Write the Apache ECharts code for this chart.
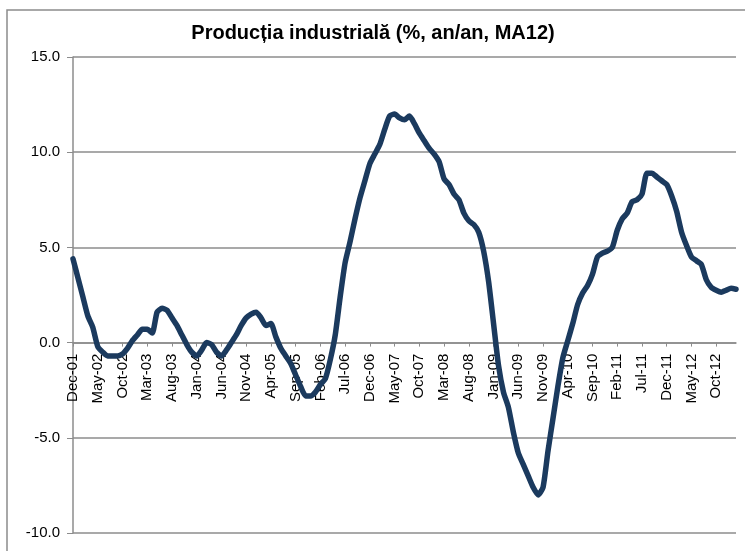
<!DOCTYPE html>
<html>
<head>
<meta charset="utf-8">
<script src="https://cdn.jsdelivr.net/npm/echarts@6/dist/echarts.min.js"></script>
<style>
html,body{margin:0;padding:0;background:#fff;}
#c{width:745px;height:551px;}
</style>
</head>
<body>
<div id="c"></div>
<script>
const titleText = 'Producția industrială (%, an/an, MA12)';
const categories = [
'Dec-01','Jan-02','Feb-02','Mar-02','Apr-02','May-02','Jun-02','Jul-02','Aug-02','Sep-02','Oct-02','Nov-02',
'Dec-02','Jan-03','Feb-03','Mar-03','Apr-03','May-03','Jun-03','Jul-03','Aug-03','Sep-03','Oct-03','Nov-03',
'Dec-03','Jan-04','Feb-04','Mar-04','Apr-04','May-04','Jun-04','Jul-04','Aug-04','Sep-04','Oct-04','Nov-04',
'Dec-04','Jan-05','Feb-05','Mar-05','Apr-05','May-05','Jun-05','Jul-05','Aug-05','Sep-05','Oct-05','Nov-05',
'Dec-05','Jan-06','Feb-06','Mar-06','Apr-06','May-06','Jun-06','Jul-06','Aug-06','Sep-06','Oct-06','Nov-06',
'Dec-06','Jan-07','Feb-07','Mar-07','Apr-07','May-07','Jun-07','Jul-07','Aug-07','Sep-07','Oct-07','Nov-07',
'Dec-07','Jan-08','Feb-08','Mar-08','Apr-08','May-08','Jun-08','Jul-08','Aug-08','Sep-08','Oct-08','Nov-08',
'Dec-08','Jan-09','Feb-09','Mar-09','Apr-09','May-09','Jun-09','Jul-09','Aug-09','Sep-09','Oct-09','Nov-09',
'Dec-09','Jan-10','Feb-10','Mar-10','Apr-10','May-10','Jun-10','Jul-10','Aug-10','Sep-10','Oct-10','Nov-10',
'Dec-10','Jan-11','Feb-11','Mar-11','Apr-11','May-11','Jun-11','Jul-11','Aug-11','Sep-11','Oct-11','Nov-11',
'Dec-11','Jan-12','Feb-12','Mar-12','Apr-12','May-12','Jun-12','Jul-12','Aug-12','Sep-12','Oct-12','Nov-12',
'Dec-12','Jan-13','Feb-13'
];
const values = [
4.4, 3.4, 2.4, 1.4, 0.8, -0.2, -0.5, -0.7, -0.7, -0.7, -0.6, -0.3,
0.1, 0.4, 0.7, 0.7, 0.5, 1.6, 1.8, 1.7, 1.3, 0.9, 0.4, -0.1,
-0.5, -0.7, -0.4, 0.0, -0.1, -0.5, -0.7, -0.4, 0.0, 0.4, 0.9, 1.3,
1.5, 1.6, 1.3, 0.9, 1.0, 0.3, -0.3, -0.7, -1.1, -1.7, -2.3, -2.8,
-2.8, -2.6, -2.2, -1.9, -0.9, 0.4, 2.4, 4.2, 5.3, 6.5, 7.6, 8.5,
9.4, 9.9, 10.4, 11.2, 11.9, 12.0, 11.8, 11.7, 11.9, 11.5, 11.0, 10.6,
10.2, 9.9, 9.5, 8.6, 8.3, 7.8, 7.5, 6.8, 6.4, 6.2, 5.8, 4.8,
3.2, 1.0, -1.2, -2.6, -3.4, -4.7, -5.8, -6.4, -7.0, -7.6, -8.0, -7.6,
-5.7, -4.0, -2.3, -0.8, 0.1, 1.0, 2.0, 2.6, 3.0, 3.6, 4.5, 4.7,
4.8, 5.0, 5.9, 6.5, 6.8, 7.4, 7.5, 7.8, 8.9, 8.9, 8.7, 8.5,
8.3, 7.7, 6.9, 5.8, 5.1, 4.5, 4.3, 4.1, 3.3, 2.9, 2.75, 2.65,
2.75, 2.85, 2.8
];
const yTicks = [-10, -5, 0, 5, 10, 15];

const W = 745, H = 551;
const gridTop = 57, gridBottom = 18;
const plotH = H - gridTop - gridBottom;
const yMin = yTicks[0], yMax = yTicks[yTicks.length - 1];
// raise the category axis so it sits on the zero line
const zeroOffset = -plotH * (0 - yMin) / (yMax - yMin);

const chart = echarts.init(document.getElementById('c'), null, {renderer: 'canvas'});
const font = '"Liberation Sans", Arial, sans-serif';
chart.setOption({
  animation: false,
  backgroundColor: '#fff',
  graphic: [{
    type: 'rect',
    shape: {x: 7, y: 10, width: 760, height: 600},
    style: {fill: 'none', stroke: '#8c8c8c', lineWidth: 1.5},
    silent: true, z: -1
  }],
  title: {
    text: titleText,
    left: 368, top: 18, textAlign: 'center',
    textStyle: {fontFamily: font, fontSize: 20, fontWeight: 'bold', color: '#000'}
  },
  grid: {left: 73, right: 9, top: gridTop, bottom: gridBottom, containLabel: false},
  xAxis: {
    type: 'category',
    data: categories,
    boundaryGap: false,
    position: 'bottom',
    offset: zeroOffset,
    axisLine: {onZero: false, lineStyle: {color: '#8c8c8c', width: 1.5}},
    axisTick: {show: true, interval: 4, length: 4, inside: false, lineStyle: {color: '#8c8c8c', width: 1}},
    axisLabel: {interval: 4, rotate: 90, margin: 11, fontFamily: font, fontSize: 15, color: '#000'},
    splitLine: {show: false}
  },
  yAxis: {
    type: 'value',
    min: yMin, max: yMax, interval: 5,
    axisLine: {show: true, lineStyle: {color: '#8c8c8c', width: 1.5}},
    axisTick: {show: true, length: 6, lineStyle: {color: '#8c8c8c', width: 1}},
    axisLabel: {margin: 13, fontFamily: font, fontSize: 15, color: '#000',
      formatter: v => v.toFixed(1)},
    splitLine: {show: true, lineStyle: {color: '#8c8c8c', width: 1.5}}
  },
  series: [{
    type: 'line',
    data: values,
    showSymbol: false,
    smooth: 0.2,
    z: 5,
    lineStyle: {color: '#1b3a5e', width: 5.5, cap: 'round', join: 'round'},
    itemStyle: {color: '#1b3a5e'}
  }]
});
</script>
</body>
</html>
